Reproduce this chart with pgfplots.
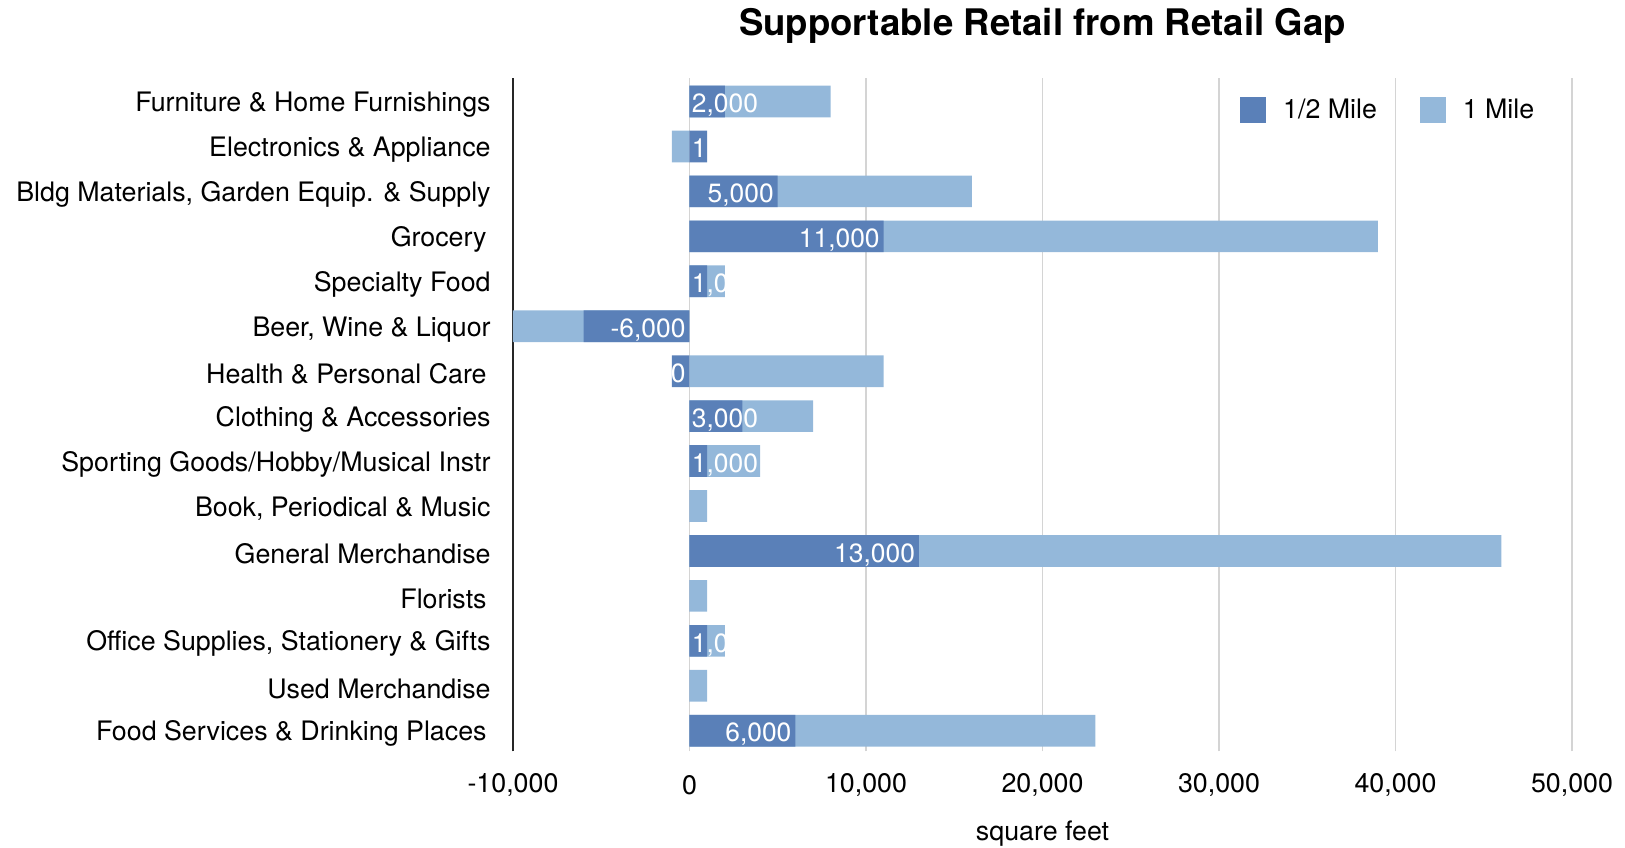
\documentclass[border=0pt]{standalone}
\usepackage{fontspec}
\setmainfont{TeX Gyre Heros}
\usepackage{pgfplots}
\pgfplotsset{compat=1.18}
\definecolor{dk}{HTML}{5A80B8}
\definecolor{lt}{HTML}{94B8DA}
\definecolor{grd}{HTML}{D4D4D4}
\newcommand{\fs}{\fontsize{13.4}{16}\selectfont}
\newcommand{\tr}{\kern2pt\relax}
% left-aligned label at 0: y, clipmin, clipmax, text
\newcommand{\lblW}[4]{%
  \begin{scope}
  \clip (axis cs:#2,#1-0.36) rectangle (axis cs:#3,#1+0.36);
  \node[anchor=base west, inner sep=0pt, text=white, font=\fontsize{13.2}{15}\selectfont, xshift=1pt, yshift=-5.6pt] at (axis cs:0,#1) {#4};
  \end{scope}}
% right-aligned label: y, clipmin, clipmax, xpos, text
\newcommand{\lblE}[5]{%
  \begin{scope}
  \clip (axis cs:#2,#1-0.36) rectangle (axis cs:#3,#1+0.36);
  \node[anchor=base east, inner sep=0pt, text=white, font=\fontsize{13.2}{15}\selectfont, xshift=-1.8pt, yshift=-5.6pt] at (axis cs:#4,#1) {#5};
  \end{scope}}
\begin{document}
\begin{tikzpicture}
\begin{axis}[
  scale only axis, width=529.5pt, height=336.85pt,
  xmin=-10000, xmax=50000,
  ymin=-0.46, ymax=14.53,
  scaled x ticks=false,
  xtick={-10000,0,10000,20000,30000,40000,50000},
  xticklabels={{-10,000},{0},{10,000},{20,000},{30,000},{40,000},{50,000}},
  ytick={0,...,14},
  yticklabels={{Food Services \& Drinking Places\tr},{Used Merchandise},{Office Supplies, Stationery \& Gifts},{Florists\tr},{General Merchandise},{Book, Periodical \& Music},{Sporting Goods/Hobby/Musical Instr},{Clothing \& Accessories},{Health \& Personal Care\tr},{Beer, Wine \& Liquor},{Specialty Food},{Grocery\tr},{Bldg Materials, Garden Equip. \& Supply},{Electronics \& Appliance},{Furniture \& Home Furnishings}},
  xmajorgrids, grid style={grd, line width=0.6pt},
  axis x line*=bottom, axis y line*=left,
  x axis line style={draw=none},
  y axis line style={draw=black!85, line width=0.8pt},
  major tick length=0pt, tick style={draw=none},
  tick label style={font=\fs},
  xticklabel style={anchor=center, yshift=-17pt},
  yticklabel style={anchor=east, inner sep=0pt, xshift=-11pt, yshift=-1.5pt},
  xlabel={square feet},
  xlabel style={at={(rel axis cs:0.5,0)}, anchor=center, yshift=-41.3pt, font=\fs},
  title={Supportable Retail from Retail Gap},
  title style={at={(rel axis cs:0.5,1)}, anchor=center, yshift=19.9pt, font=\bfseries\fontsize{18.3}{22}\selectfont},
  legend columns=2,
  legend style={draw=none, fill=none, at={(rel axis cs:0.6865,0.9515)}, anchor=west, inner sep=0pt,
    font=\fs, nodes={inner sep=0pt},
    /tikz/every odd column/.append style={column sep=8.5pt},
    /tikz/every even column/.append style={column sep=21.5pt}},
  legend cell align=left,
]
\addlegendimage{legend image code/.code={\fill[dk] (0pt,-6.25pt) rectangle (12.5pt,6.25pt);}}
\addlegendentry{1/2 Mile}
\addlegendimage{legend image code/.code={\fill[lt] (0pt,-6.25pt) rectangle (12.5pt,6.25pt);}}
\addlegendentry{1 Mile}
% 1 Mile
\addplot[xbar, bar width=0.705, bar shift=0pt, fill=lt, draw=none, forget plot] coordinates {
(8000,14) (-1000,13) (16000,12) (39000,11) (2000,10) (-10000,9) (11000,8) (7000,7) (4000,6) (1000,5) (46000,4) (1000,3) (2000,2) (1000,1) (23000,0)};
% 1/2 Mile
\addplot[xbar, bar width=0.705, bar shift=0pt, fill=dk, draw=none, forget plot] coordinates {
(2000,14) (1000,13) (5000,12) (11000,11) (1000,10) (-6000,9) (-1000,8) (3000,7) (1000,6) (0,5) (13000,4) (0,3) (1000,2) (0,1) (6000,0)};
\lblW{14}{0}{8000}{2,000}
\lblW{13}{-1000}{1000}{1,000}
\lblE{12}{0}{16000}{5000}{5,000}
\lblE{11}{0}{39000}{11000}{11,000}
\lblW{10}{0}{2000}{1,000}
\lblE{9}{-10000}{0}{0}{-6,000}
\lblE{8}{-1000}{11000}{0}{-1,000}
\lblW{7}{0}{7000}{3,000}
\lblW{6}{0}{4000}{1,000}
\lblE{4}{0}{46000}{13000}{13,000}
\lblW{2}{0}{2000}{1,000}
\lblE{0}{0}{23000}{6000}{6,000}
\end{axis}
\pgfresetboundingbox
\path (-256.5pt,-47.8pt) rectangle (556pt,375.7pt);
\end{tikzpicture}
\end{document}
